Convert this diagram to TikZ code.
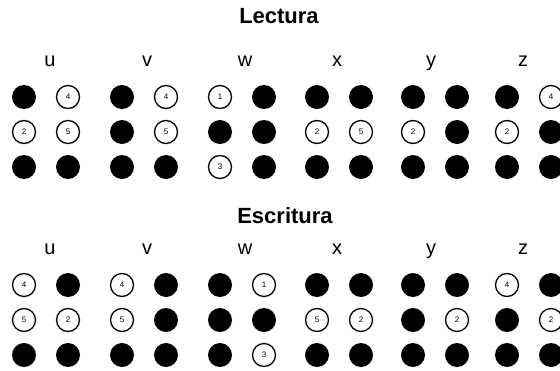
\documentclass[tikz,border=0pt]{standalone}
\usepackage{fontspec}
\setmainfont{Liberation Sans}
\begin{document}
\begin{tikzpicture}[x=1pt, y=-1pt,
    dotfull/.style={circle, fill=black, minimum size=24pt, inner sep=0pt},
    dotopen/.style={circle, draw=black, line width=1.3pt, fill=white, minimum size=23pt, inner sep=0pt, font=\fontsize{8}{8}\selectfont},
    heading/.style={font=\fontsize{22}{22}\selectfont\bfseries, anchor=base},
    letter/.style={font=\fontsize{20}{20}\selectfont, anchor=base}]
    \useasboundingbox (0,0) rectangle (560,370);
    \node[heading] (lectura) at (279,23) {Lectura};
    \node[heading] (escritura) at (285,223) {Escritura};
    % reading: 0 = raised dot, else number of the empty position
    \foreach \x/\lx/\ch/\pat in {24/50/u/{0,4,2,5,0,0}, 122/147/v/{0,4,0,5,0,0}, 220/245/w/{1,0,0,0,3,0},
                                317/337/x/{0,0,2,5,0,0}, 413/431/y/{0,0,2,0,0,0}, 507/523/z/{0,4,2,0,0,0}}{
        \node[letter] (top\ch) at (\lx,66) {\ch};
        \foreach \v [count=\k from 0] in \pat {
            \pgfmathtruncatemacro{\col}{mod(\k,2)}
            \pgfmathtruncatemacro{\row}{div(\k,2)}
            \pgfmathsetmacro{\px}{\x+44*\col}
            \pgfmathsetmacro{\py}{97+35*\row}
            \ifnum\v=0
                \node[dotfull] (top\ch\k) at (\px,\py) {};
            \else
                \node[dotopen] (top\ch\k) at (\px,\py) {\v};
            \fi
        }
    }
    % writing: mirrored cells
    \foreach \x/\lx/\ch/\pat in {24/50/u/{4,0,5,2,0,0}, 122/147/v/{4,0,5,0,0,0}, 220/245/w/{0,1,0,0,0,3},
                                317/337/x/{0,0,5,2,0,0}, 413/431/y/{0,0,0,2,0,0}, 507/523/z/{4,0,0,2,0,0}}{
        \node[letter] (bot\ch) at (\lx,254) {\ch};
        \foreach \v [count=\k from 0] in \pat {
            \pgfmathtruncatemacro{\col}{mod(\k,2)}
            \pgfmathtruncatemacro{\row}{div(\k,2)}
            \pgfmathsetmacro{\px}{\x+44*\col}
            \pgfmathsetmacro{\py}{285+35*\row}
            \ifnum\v=0
                \node[dotfull] (bot\ch\k) at (\px,\py) {};
            \else
                \node[dotopen] (bot\ch\k) at (\px,\py) {\v};
            \fi
        }
    }
\end{tikzpicture}
\end{document}
